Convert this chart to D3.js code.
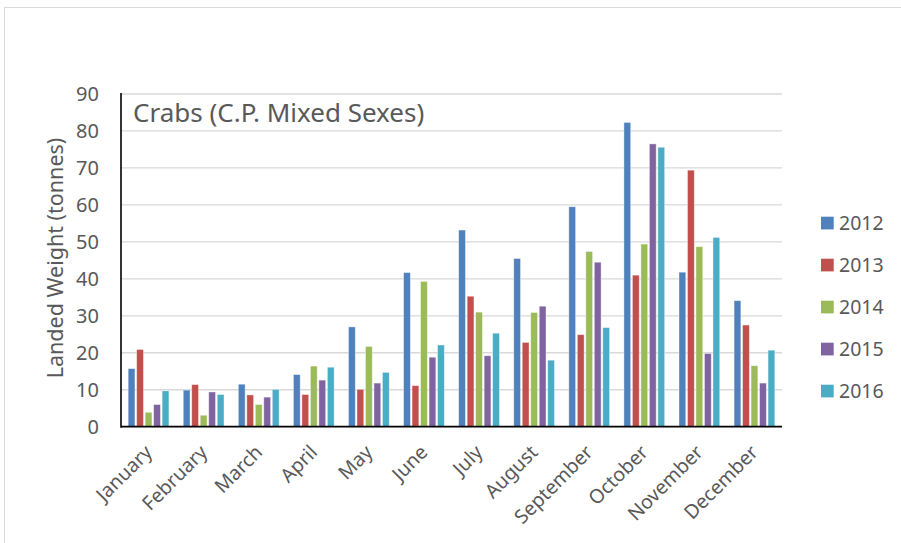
<!DOCTYPE html>
<html><head><meta charset="utf-8">
<script src="https://cdn.jsdelivr.net/npm/d3@7"></script>
<style>body{margin:0;background:#fff}svg{display:block}</style>
</head><body><svg id="c" width="901" height="543"></svg>
<script>
const months = ["January","February","March","April","May","June","July","August","September","October","November","December"];
const years = ["2012","2013","2014","2015","2016"];
const v2012 = [15.7, 9.9, 11.5, 14.1, 27.0, 41.7, 53.2, 45.5, 59.5, 82.3, 41.8, 34.1];
const v2013 = [20.9, 11.4, 8.6, 8.7, 10.1, 11.1, 35.3, 22.8, 24.9, 41.0, 69.4, 27.5];
const v2014 = [3.9, 3.1, 6.0, 16.4, 21.7, 39.3, 31.0, 30.9, 47.4, 49.4, 48.7, 16.5];
const v2015 = [6.0, 9.4, 8.0, 12.6, 11.8, 18.8, 19.2, 32.6, 44.5, 76.5, 19.8, 11.8];
const v2016 = [9.7, 8.7, 10.1, 16.1, 14.7, 22.1, 25.3, 18.0, 26.8, 75.6, 51.2, 20.7];
const yTicks = [0,10,20,30,40,50,60,70,80,90];
const colors = ["#4F81BD","#C0504D","#9BBB59","#8064A2","#4BACC6"];
const title = "Crabs (C.P. Mixed Sexes)";
const yTitle = "Landed Weight (tonnes)";

const series = [v2012, v2013, v2014, v2015, v2016];
const svg = d3.select("#c");
const font = "'Noto Sans', 'Open Sans', sans-serif";
const textCol = "#595959";

svg.append("rect").attr("x",4.5).attr("y",7.5).attr("width",910).attr("height",560)
  .attr("fill","none").attr("stroke","#d9d9d9").attr("stroke-width",1);

const L = 121, R = 782, T = 94, B = 426.7;
const x0 = d3.scaleBand().domain(months).range([L,R]).paddingInner(0.26).paddingOuter(0.13);
const x1 = d3.scaleBand().domain(years).range([0,x0.bandwidth()]).paddingInner(0.2);
const y = d3.scaleLinear().domain([0,90]).range([B,T]);

// gridlines
svg.append("g").selectAll("line").data(yTicks.filter(d=>d>0)).join("line")
  .attr("x1",L).attr("x2",R).attr("y1",d=>y(d)).attr("y2",d=>y(d))
  .attr("stroke","#d9d9d9").attr("stroke-width",1.3);

// y axis labels
const ya = svg.append("g").attr("transform",`translate(${L},0)`)
  .call(d3.axisLeft(y).tickValues(yTicks).tickSize(0).tickPadding(22));
ya.select(".domain").remove();
ya.selectAll("text").attr("font-family",font).attr("font-size",20).attr("fill",textCol);

// bars
const g = svg.append("g");
months.forEach((m,i)=>{
  years.forEach((yr,j)=>{
    g.append("rect")
      .attr("x", x0(m)+x1(yr))
      .attr("y", y(series[j][i]))
      .attr("width", x1.bandwidth())
      .attr("height", y(0)-y(series[j][i]))
      .attr("fill", colors[j])
      .attr("stroke","#ffffff").attr("stroke-opacity",0.5).attr("stroke-width",0.8);
  });
});

// axes lines
svg.append("line").attr("x1",L).attr("x2",L).attr("y1",T-1).attr("y2",B+1)
  .attr("stroke","#000").attr("stroke-width",1.6);
const xa = svg.append("g").attr("transform",`translate(0,${B})`)
  .call(d3.axisBottom(x0).tickSize(0).tickPadding(0));
xa.select(".domain").attr("stroke","#000").attr("stroke-width",1.8).attr("d",`M${L},0H${R}`);
xa.selectAll("text")
  .attr("font-family",font).attr("font-size",19.5).attr("fill",textCol)
  .attr("text-anchor","end").attr("dy","0.35em")
  .attr("transform","translate(0,22) rotate(-45)");

// title
svg.append("text").attr("x",133).attr("y",122).attr("font-family",font)
  .attr("font-size",26).attr("fill",textCol).text(title);

// y title
svg.append("text").attr("transform",`translate(63,258) rotate(-90)`)
  .attr("text-anchor","middle").attr("font-family",font).attr("font-size",21.5)
  .attr("fill",textCol).text(yTitle);

// legend
const lg = svg.append("g");
years.forEach((yr,j)=>{
  const cy = 223 + j*42;
  lg.append("rect").attr("x",821).attr("y",cy-6.3).attr("width",12.7).attr("height",12.7).attr("fill",colors[j]);
  lg.append("text").attr("x",839).attr("y",cy).attr("dy","0.36em").attr("font-family",font)
    .attr("font-size",19.5).attr("fill",textCol).text(yr);
});
</script></body></html>
